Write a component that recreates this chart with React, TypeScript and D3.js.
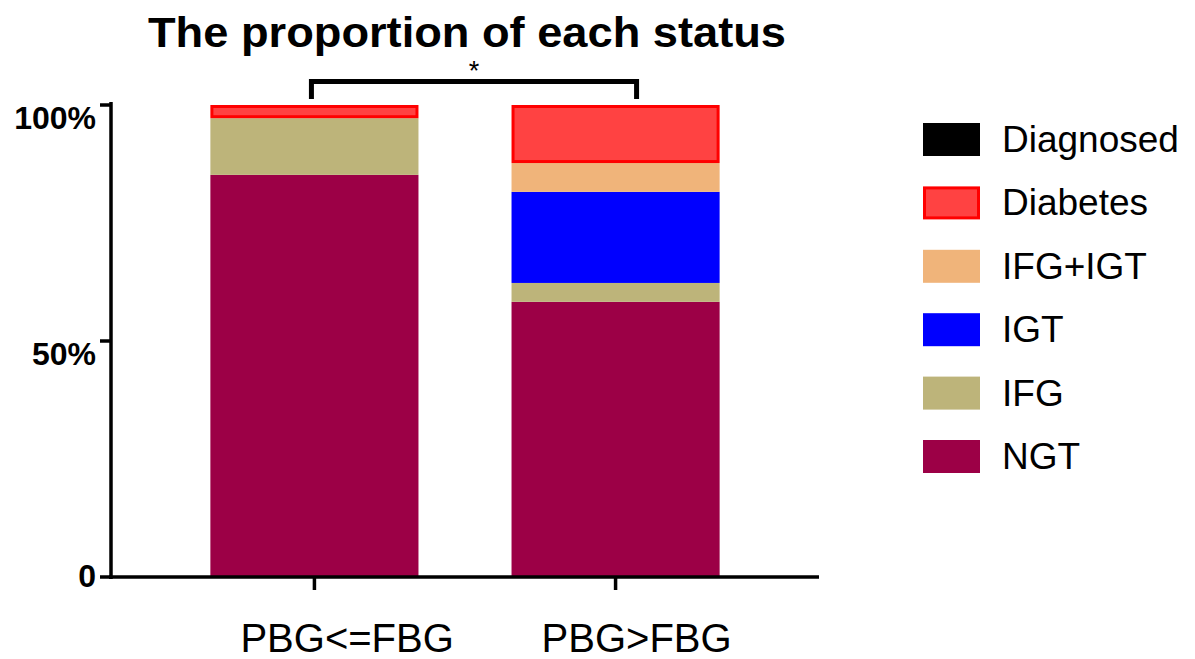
import React from "react";
import * as d3 from "d3";

// data
const categories = ["PBG<=FBG", "PBG>FBG"];
const statuses = ["NGT", "IFG", "IGT", "IFG+IGT", "Diabetes", "Diagnosed"];
const ngt = [85.2, 58.3];
const ifg = [12.0, 4.0];
const igt = [0, 19.3];
const ifgIgt = [0, 6.1];
const diabetes = [2.8, 12.3];
const diagnosed = [0, 0];
const yTicks = [0, 50, 100];
const yTickLabels = ["0", "50%", "100%"];

const colors: Record<string, string> = {
  NGT: "#9c0046",
  IFG: "#bdb47a",
  IGT: "#0000ff",
  "IFG+IGT": "#f0b47a",
  Diabetes: "#ff4242",
  Diagnosed: "#000000",
};
const strokes: Record<string, string> = { Diabetes: "#ff0000" };

const font = "'Liberation Sans', Arial, Helvetica, sans-serif";

const width = 1195;
const height = 659;

const App = () => {
  const rows = categories.map((c, i) => ({
    cat: c,
    NGT: ngt[i],
    IFG: ifg[i],
    IGT: igt[i],
    "IFG+IGT": ifgIgt[i],
    Diabetes: diabetes[i],
    Diagnosed: diagnosed[i],
  }));

  const series = d3.stack<any>().keys(statuses)(rows);

  const x = d3
    .scaleBand()
    .domain(categories)
    .range([111, 819])
    .paddingInner(0.309)
    .paddingOuter(0.33);
  const y = d3.scaleLinear().domain([0, 100]).range([577, 105]);

  const legendItems = statuses.slice().reverse();

  return (
    <div style={{ position: "absolute", left: 0, top: 0 }}>
      <svg width={width} height={height} style={{ display: "block", background: "#fff" }}>
        {/* title */}
        <text
          x={467}
          y={47}
          textAnchor="middle"
          fontFamily={font}
          fontWeight="bold"
          fontSize={43}
          textLength={638}
          lengthAdjust="spacingAndGlyphs"
        >
          The proportion of each status
        </text>

        {/* bars */}
        {series.map((s) => (
          <g key={s.key}>
            {s.map((d, i) => {
              const h = y(d[0]) - y(d[1]);
              if (h <= 0) return null;
              const bx = x(categories[i]) as number;
              const stroke = strokes[s.key];
              if (stroke) {
                return (
                  <rect
                    key={i}
                    x={bx + 1.5}
                    y={y(d[1]) + 1.5}
                    width={x.bandwidth() - 3}
                    height={Math.max(0, h - 3)}
                    fill={colors[s.key]}
                    stroke={stroke}
                    strokeWidth={3}
                  />
                );
              }
              return (
                <rect
                  key={i}
                  x={bx}
                  y={y(d[1])}
                  width={x.bandwidth()}
                  height={h}
                  fill={colors[s.key]}
                />
              );
            })}
          </g>
        ))}

        {/* y axis */}
        <line x1={111} x2={111} y1={102} y2={579} stroke="#000" strokeWidth={3.5} />
        {yTicks.map((t, i) => (
          <g key={t}>
            <line x1={100} x2={111} y1={y(t)} y2={y(t)} stroke="#000" strokeWidth={3.5} />
            <text
              x={96}
              y={y(t) + (t === 0 ? 10 : 24)}
              textAnchor="end"
              fontFamily={font}
              fontWeight="bold"
              fontSize={32}
            >
              {yTickLabels[i]}
            </text>
          </g>
        ))}

        {/* x axis */}
        <line x1={109} x2={819} y1={577} y2={577} stroke="#000" strokeWidth={3.5} />
        {categories.map((c) => {
          const cx = (x(c) as number) + x.bandwidth() / 2;
          return (
            <g key={c}>
              <line x1={cx} x2={cx} y1={577} y2={590} stroke="#000" strokeWidth={3.5} />
              <text x={cx - 74} y={652} fontFamily={font} fontSize={40}>
                {c}
              </text>
            </g>
          );
        })}

        {/* significance bracket */}
        {(() => {
          const x1 = (x(categories[0]) as number) + x.bandwidth() / 2 - 3;
          const x2 = (x(categories[1]) as number) + x.bandwidth() / 2 + 21;
          return (
            <g>
              <path
                d={`M${x1},99 V81.5 H${x2} V99`}
                fill="none"
                stroke="#000"
                strokeWidth={5}
              />
              <text
                x={(x1 + x2) / 2}
                y={80}
                textAnchor="middle"
                fontFamily={font}
                fontSize={27}
              >
                *
              </text>
            </g>
          );
        })()}

        {/* legend */}
        {legendItems.map((k, i) => {
          const ly = 123 + i * 63.4;
          const stroke = strokes[k];
          return (
            <g key={k}>
              {stroke ? (
                <rect
                  x={924.5}
                  y={ly + 1.5}
                  width={54}
                  height={30}
                  fill={colors[k]}
                  stroke={stroke}
                  strokeWidth={3}
                />
              ) : (
                <rect x={923} y={ly} width={57} height={33} fill={colors[k]} />
              )}
              <text x={1002} y={ly + 29} fontFamily={font} fontSize={37}>
                {k}
              </text>
            </g>
          );
        })}
      </svg>
    </div>
  );
};

export default App;
